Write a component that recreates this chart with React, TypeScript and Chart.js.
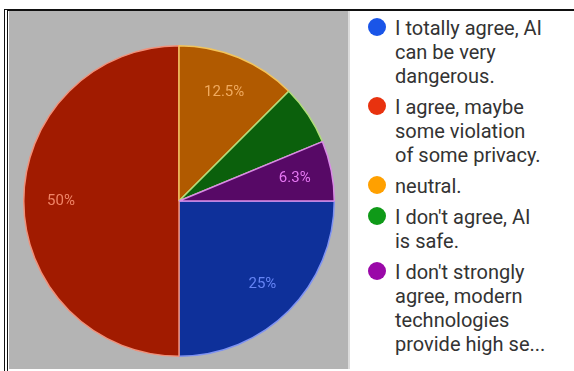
import React, { useEffect, useRef } from "react";
import { Chart, registerables } from "chart.js";

Chart.register(...registerables);

const categories = [
  "I totally agree, AI can be very dangerous.",
  "I agree, maybe some violation of some privacy.",
  "neutral.",
  "I don't agree, AI is safe.",
  "I don't strongly agree, modern technologies provide high se...",
];
const legendLines = [
  ["I totally agree, AI", "can be very", "dangerous."],
  ["I agree, maybe", "some violation", "of some privacy."],
  ["neutral."],
  ["I don't agree, AI", "is safe."],
  ["I don't strongly", "agree, modern", "technologies", "provide high se..."],
];
const responses = [4, 8, 2, 1, 1];
const sliceLabels = ["25%", "50%", "12.5%", "", "6.3%"];
const sliceColors = ["#0e309a", "#a11b00", "#b15a00", "#0b600c", "#570966"];
const sliceBorders = ["#7f93f2", "#f0917a", "#f2c45c", "#b0dc7a", "#d98ae6"];
const labelColors = ["#6584f4", "#f08466", "#f0aa5e", "#ffffff", "#e577f2"];
const dotColors = ["#1a55e8", "#e8320f", "#ffa000", "#0f9a18", "#9a08a8"];

const labelPlugin = {
  id: "sliceLabels",
  afterDatasetsDraw(chart: any) {
    const ctx = chart.ctx;
    const meta = chart.getDatasetMeta(0);
    ctx.save();
    ctx.font = "15px Roboto";
    ctx.textAlign = "center";
    ctx.textBaseline = "middle";
    meta.data.forEach((arc: any, i: number) => {
      const t = sliceLabels[i];
      if (!t) return;
      const p = arc.getProps(["x", "y", "startAngle", "endAngle", "outerRadius"], true);
      const mid = (p.startAngle + p.endAngle) / 2;
      const r = p.outerRadius * 0.76;
      ctx.fillStyle = labelColors[i];
      ctx.fillText(t, p.x + Math.cos(mid) * r, p.y + Math.sin(mid) * r);
    });
    ctx.restore();
  },
};

export default function App() {
  const ref = useRef<HTMLCanvasElement>(null);
  useEffect(() => {
    if (!ref.current) return;
    const chart = new Chart(ref.current, {
      type: "pie",
      data: {
        labels: categories,
        datasets: [
          {
            data: responses,
            backgroundColor: sliceColors,
            borderColor: sliceBorders,
            borderWidth: 1.5,
          },
        ],
      },
      options: {
        responsive: false,
        animation: false,
        rotation: 90,
        layout: { padding: 4 },
        plugins: { legend: { display: false }, tooltip: { enabled: false } },
      },
      plugins: [labelPlugin],
    });
    return () => chart.destroy();
  }, []);

  return (
    <div
      style={{
        position: "fixed",
        left: 0,
        top: 0,
        width: 574,
        height: 371,
        background: "#fff",
        overflow: "hidden",
      }}
    >
      <div
        style={{
          position: "absolute",
          left: 4,
          top: 9,
          width: 580,
          height: 370,
          borderTop: "2px solid #111",
          borderLeft: "4px double #111",
        }}
      />
      <div
        style={{
          position: "absolute",
          left: 9,
          top: 11,
          width: 339,
          height: 358,
          background: "#b4b4b4",
          borderRight: "2px solid #dcdcdc",
        }}
      />
      <canvas
        ref={ref}
        width={320}
        height={320}
        style={{ position: "absolute", left: 19, top: 41, width: 320, height: 320 }}
      />
      <div
        style={{
          position: "absolute",
          left: 367,
          top: 16,
          fontFamily: "Roboto, sans-serif",
          fontSize: 20,
          lineHeight: "24px",
          color: "#333",
        }}
      >
        {legendLines.map((lines, i) => (
          <div key={i} style={{ position: "relative", paddingLeft: 28, marginBottom: 7 }}>
            <span
              style={{
                position: "absolute",
                left: 1,
                top: 2,
                width: 18,
                height: 18,
                borderRadius: "50%",
                background: dotColors[i],
              }}
            />
            {lines.map((l, j) => (
              <div key={j} style={{ whiteSpace: "nowrap" }}>
                {l}
              </div>
            ))}
          </div>
        ))}
      </div>
    </div>
  );
}
